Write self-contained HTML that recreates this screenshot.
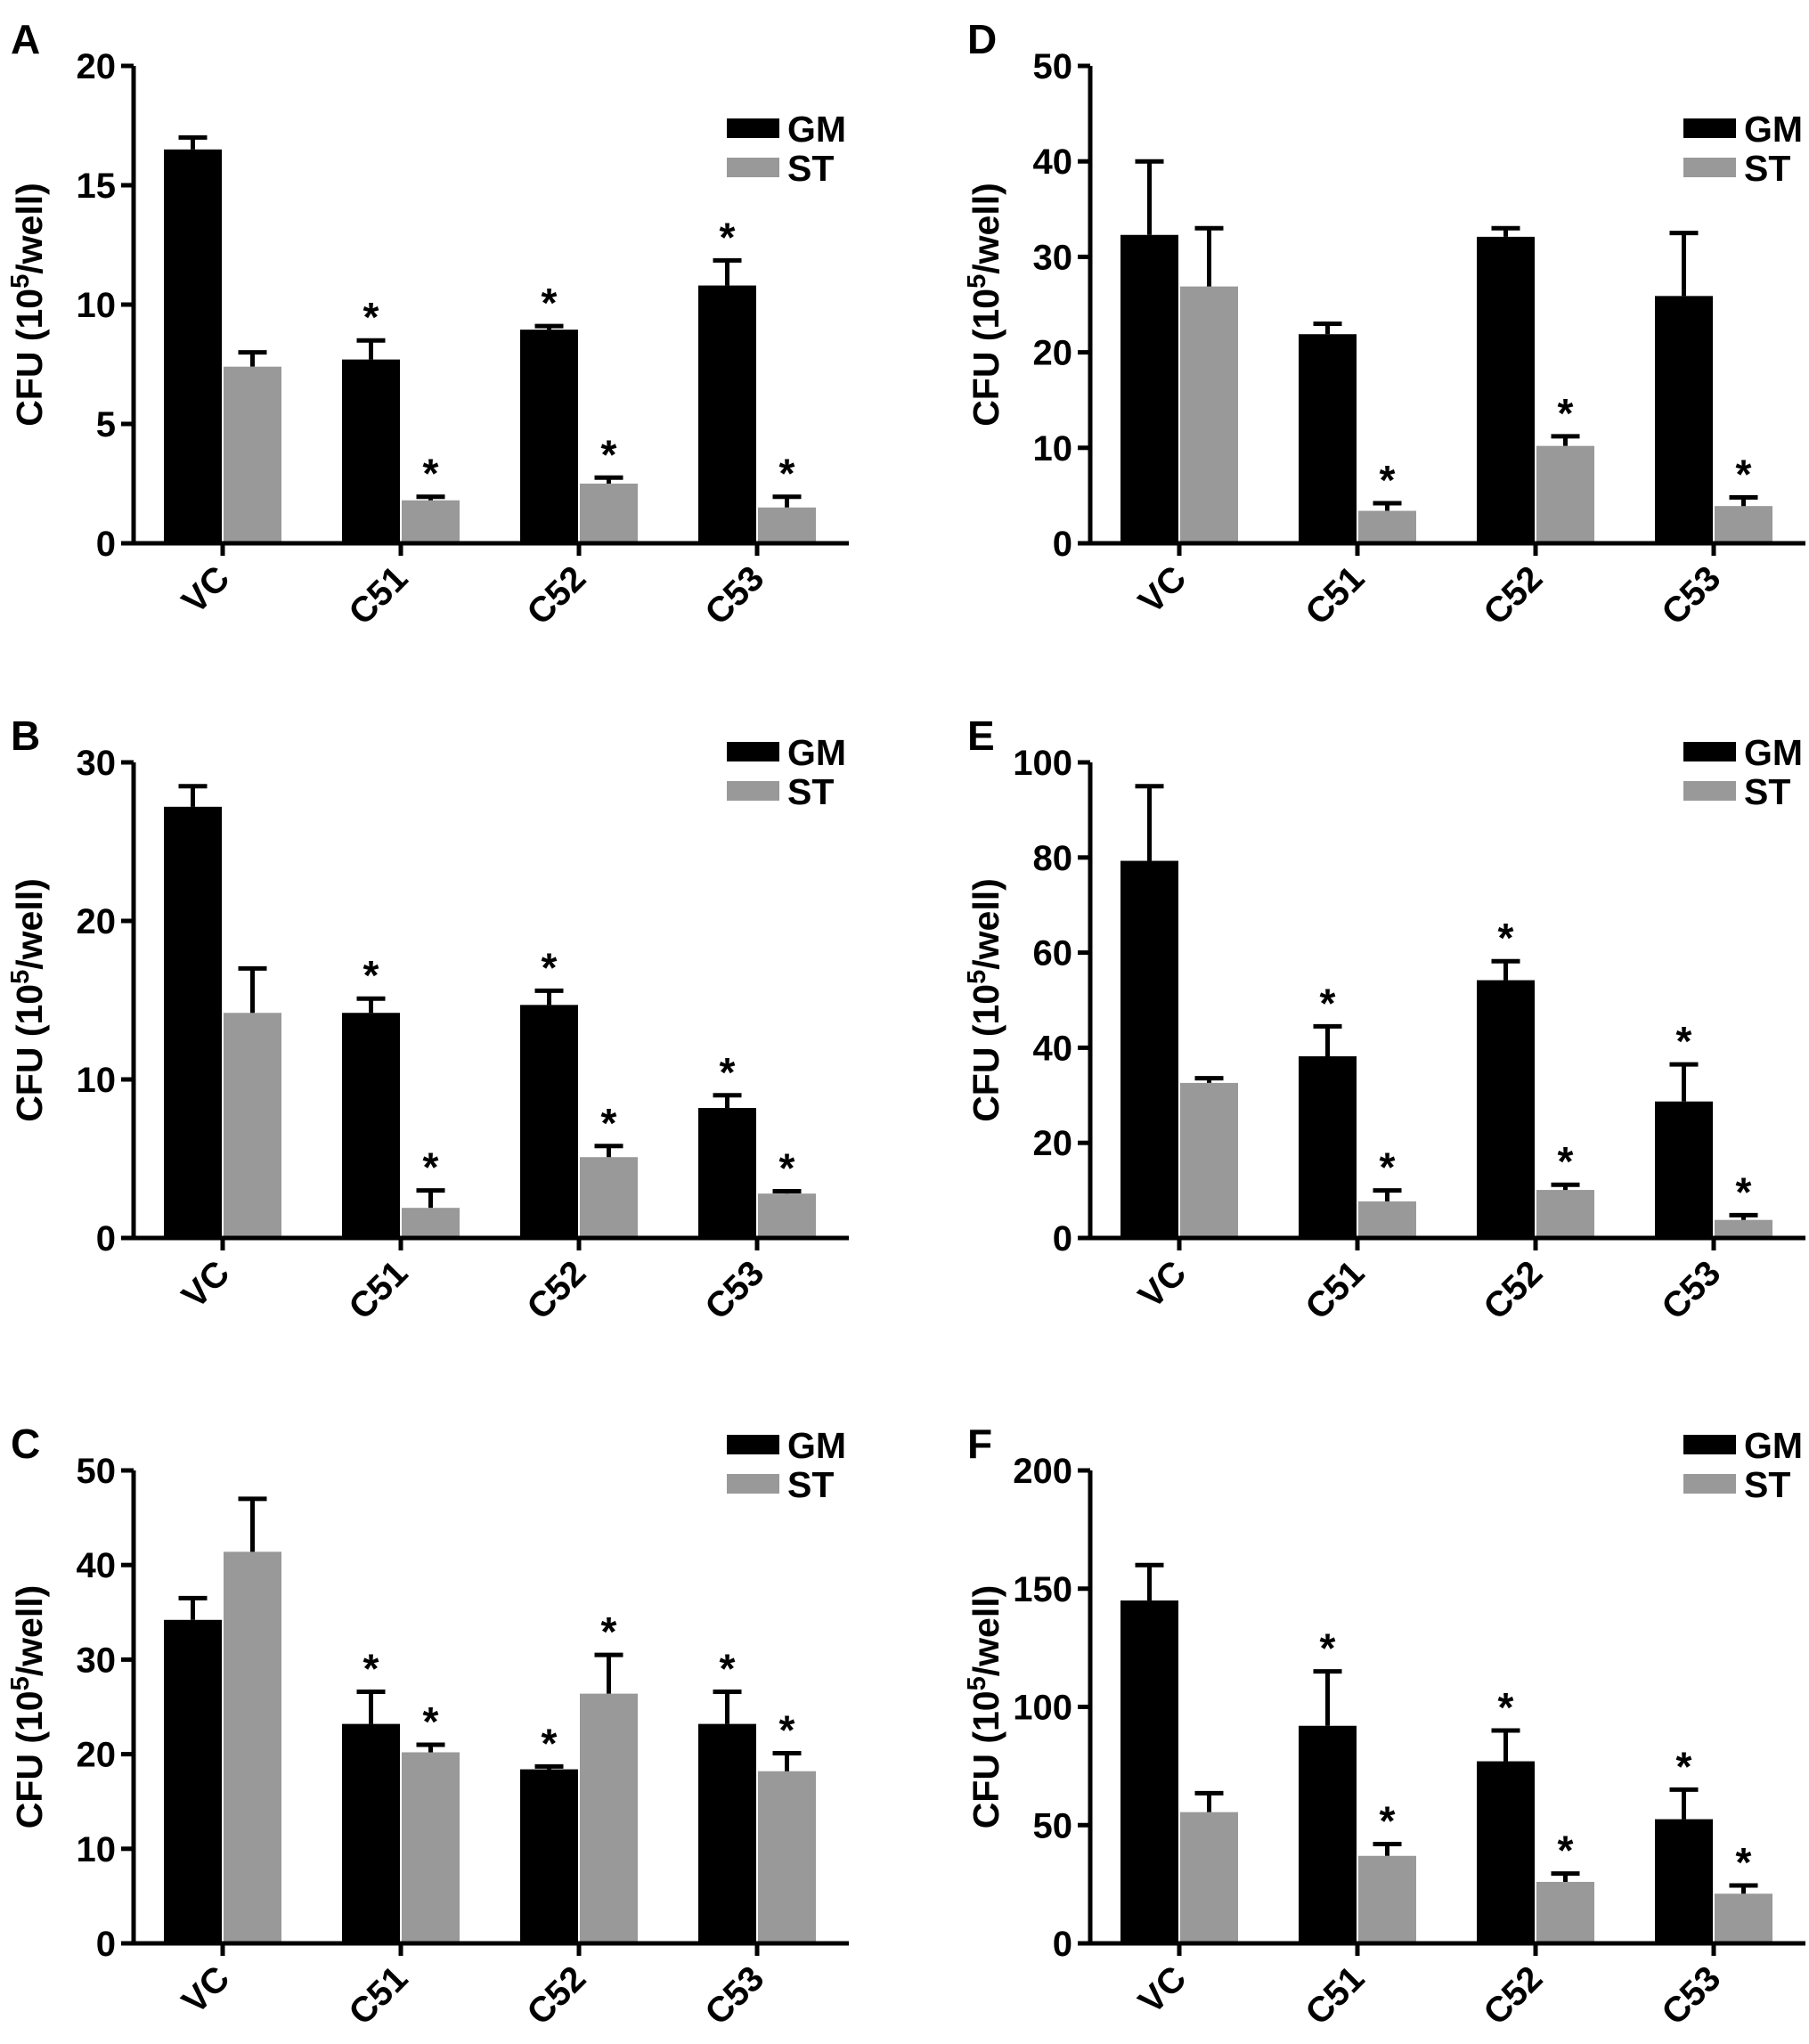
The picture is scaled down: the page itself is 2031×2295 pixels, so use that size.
<!DOCTYPE html>
<html><head><meta charset="utf-8"><style>
html,body{margin:0;padding:0;background:#fff;}
svg text{font-family:"Liberation Sans Narrow","Liberation Sans",sans-serif;font-weight:bold;fill:#000;}
</style></head><body>
<svg id="fig" width="2031" height="2290" viewBox="0 0 2031 2290" xmlns="http://www.w3.org/2000/svg"></svg>
<script>
const categories = ["VC","C51","C52","C53"];
const aGM = [16.5, 7.7, 8.95, 10.8], aGMerr = [17.0, 8.5, 9.1, 11.85];
const aST = [7.4, 1.8, 2.5, 1.5], aSTerr = [8.0, 1.95, 2.75, 1.95];
const bGM = [27.2, 14.2, 14.7, 8.2], bGMerr = [28.5, 15.1, 15.6, 9.0];
const bST = [14.2, 1.9, 5.1, 2.8], bSTerr = [17.0, 3.0, 5.8, 2.95];
const cGM = [34.2, 23.2, 18.4, 23.2], cGMerr = [36.5, 26.6, 18.7, 26.6];
const cST = [41.4, 20.2, 26.4, 18.2], cSTerr = [47.0, 21.0, 30.5, 20.1];
const dGM = [32.3, 21.9, 32.1, 25.9], dGMerr = [40.0, 23.0, 33.0, 32.5];
const dST = [26.9, 3.4, 10.2, 3.9], dSTerr = [33.0, 4.2, 11.2, 4.8];
const eGM = [79.3, 38.2, 54.2, 28.7], eGMerr = [95.0, 44.5, 58.2, 36.5];
const eST = [32.6, 7.7, 10.1, 3.8], eSTerr = [33.6, 10.0, 11.2, 4.8];
const fGM = [145, 92, 77, 52.5], fGMerr = [160, 115, 90, 65];
const fST = [55.5, 37, 26, 21], fSTerr = [63.5, 42, 29.5, 24.5];
const aTicks = [0,5,10,15,20], bTicks = [0,10,20,30], cTicks = [0,10,20,30,40,50];
const dTicks = [0,10,20,30,40,50], eTicks = [0,20,40,60,80,100], fTicks = [0,50,100,150,200];
const aStarGM = [0,1,1,1], aStarST = [0,1,1,1];
const bStarGM = [0,1,1,1], bStarST = [0,1,1,1];
const cStarGM = [0,1,1,1], cStarST = [0,1,1,1];
const dStarGM = [0,0,0,0], dStarST = [0,1,1,1];
const eStarGM = [0,1,1,1], eStarST = [0,1,1,1];
const fStarGM = [0,1,1,1], fStarST = [0,1,1,1];

const NS = "http://www.w3.org/2000/svg";
const svg = document.getElementById('fig');
function mk(tag, attrs, parent, txt){
  const e = document.createElementNS(NS, tag);
  for (const k in attrs) e.setAttribute(k, attrs[k]);
  if (txt !== undefined) e.textContent = txt;
  (parent||svg).appendChild(e);
  return e;
}
function panel(letter, ax, top, zero, ticks, gm, gmErr, st, stErr, starGM, starST, legY){
  const g = mk('g', {});
  
  
  const maxV = ticks[ticks.length-1];
  const y = v => zero - (zero - top) * v / maxV;
  const xc = i => ax + 100 + 200*i;
  const bw = 65;
  const lt = mk('text', {x: ax - 138, y: top - 14, 'font-size': 46, 'font-family': '"Liberation Sans",sans-serif'}, g, letter);
  
  
  categories.forEach((c, i) => {
    const series = [[gm, gmErr, starGM, '#000', -bw - 1, 'gm'], [st, stErr, starST, '#999', 1, 'st']];
    series.forEach(s => {
      const v = s[0][i], e = s[1][i];
      const x0 = xc(i) + s[4];
      const cx = x0 + bw/2;
      const r = mk('rect', {x: x0, y: y(v), width: bw, height: zero - y(v), fill: s[3]}, g);
      
      
      const eb = mk('path', {d: `M${cx} ${y(v)} V${y(e)} M${cx-16} ${y(e)} H${cx+16}`, stroke: '#000', 'stroke-width': 5, fill: 'none'}, g);
      
      
      if (s[2][i]) {
        const t = mk('text', {x: cx, y: y(e) - 10, 'font-size': 46, 'text-anchor': 'middle', 'font-family': '"Liberation Sans",sans-serif'}, g, '*');
        
        
      }
    });
    const tk = mk('line', {x1: xc(i), y1: zero, x2: xc(i), y2: zero + 14, stroke: '#000', 'stroke-width': 5}, g);
    
    
    const lx = xc(i) + 10, ly = zero + 42;
    const xl = mk('text', {x: lx, y: ly, 'font-size': 40, 'text-anchor': 'end', transform: `rotate(-45 ${lx} ${ly})`}, g, c);
    
    
  });
  const axl = mk('path', {d: `M${ax} ${top} V${zero} H${ax + 803}`, stroke: '#000', 'stroke-width': 5, fill: 'none'}, g);
  
  
  ticks.forEach(t => {
    const tl = mk('line', {x1: ax - 14, y1: y(t), x2: ax, y2: y(t), stroke: '#000', 'stroke-width': 5}, g);
    
    
    const tt = mk('text', {x: ax - 20, y: y(t) + 14, 'font-size': 40, 'text-anchor': 'end'}, g, String(t));
    
    
  });
  const yc = (top + zero)/2, yx = ax - 103;
  const yt = mk('text', {x: yx, y: yc, 'font-size': 41, 'text-anchor': 'middle', transform: `rotate(-90 ${yx} ${yc})`, 'font-family': '"Liberation Sans",sans-serif'}, g);
  
  
  mk('tspan', {}, yt, 'CFU (10');
  mk('tspan', {dy: -15, 'font-size': 29}, yt, '5');
  mk('tspan', {dy: 15}, yt, '/well)');
  [['GM', '#000', 0], ['ST', '#999', 44]].forEach(l => {
    const lg = mk('g', {}, g);
    
    
    mk('rect', {x: ax + 666, y: legY + l[2], width: 59, height: 22, fill: l[1]}, lg);
    mk('text', {x: ax + 734, y: legY + l[2] + 26, 'font-size': 41}, lg, l[0]);
  });
}
panel('A', 150, 74, 610, aTicks, aGM, aGMerr, aST, aSTerr, aStarGM, aStarST, 133);
panel('B', 150, 856, 1390, bTicks, bGM, bGMerr, bST, bSTerr, bStarGM, bStarST, 833);
panel('C', 150, 1651, 2182, cTicks, cGM, cGMerr, cST, cSTerr, cStarGM, cStarST, 1611);
panel('D', 1224, 74, 610, dTicks, dGM, dGMerr, dST, dSTerr, dStarGM, dStarST, 133);
panel('E', 1224, 856, 1390, eTicks, eGM, eGMerr, eST, eSTerr, eStarGM, eStarST, 833);
panel('F', 1224, 1651, 2182, fTicks, fGM, fGMerr, fST, fSTerr, fStarGM, fStarST, 1611);
</script>
</body></html>
